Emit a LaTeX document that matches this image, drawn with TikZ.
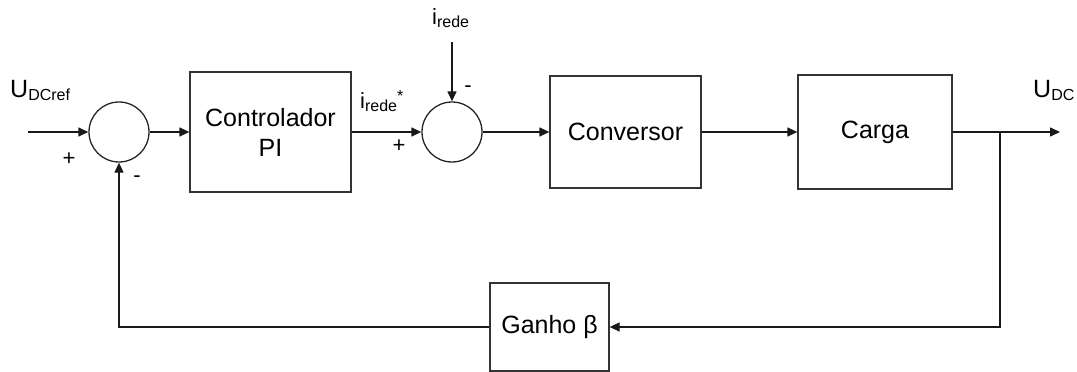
\documentclass[tikz,border=0pt]{standalone}
\usepackage{fontspec}
\setmainfont{Liberation Sans}
\usetikzlibrary{arrows.meta}
% lowered subscript in a smaller size
\newcommand\lowsub[1]{\raisebox{-3pt}{\fontsize{16}{16}\selectfont #1}}
\begin{document}
\begin{tikzpicture}[x=1pt,y=-1pt,
  blk/.style={draw=black!80, line width=1.3pt, inner sep=0pt,
    font=\fontsize{25}{30}\selectfont, align=center},
  sum/.style={draw=black!85, circle, line width=1.3pt, minimum size=60pt, inner sep=0pt},
  sig/.style={draw=black!90, line width=1.3pt, -{Triangle[length=10pt,width=9pt]}},
  wire/.style={draw=black!90, line width=1.3pt},
  lbl/.style={inner sep=0pt, font=\fontsize{25}{30}\selectfont},
  ilbl/.style={inner sep=0pt, font=\fontsize{22}{26}\selectfont},
  sgn/.style={inner sep=0pt, font=\fontsize{22}{24}\selectfont}]
\useasboundingbox (0,0) rectangle (1077,372);

% summing junctions
\node[sum] (s1) at (119,132) {};
\node[sum] (s2) at (452,132) {};

% blocks
\node[blk, minimum width=161pt, minimum height=120pt] (pi) at (270.5,132) {Controlador\\PI};
\node[blk, minimum width=151pt, minimum height=112pt] (conv) at (625.5,132) {Conversor};
\node[blk, minimum width=154pt, minimum height=114pt] (carga) at (875,132) {Carga};
\node[blk, minimum width=119pt, minimum height=88pt] (ganho) at (549.5,327) {Ganho β};

% free ends of the signal lines
\coordinate (in) at (28,132);
\coordinate (out) at (1060,132);
\coordinate (br) at (1000,132);
\coordinate (fb) at (1000,327);
\coordinate (ir) at (452,42);

% forward path
\draw[sig] (in) -- (s1);
\draw[sig] (s1) -- (pi);
\draw[sig] (pi) -- (s2);
\draw[sig] (s2) -- (conv);
\draw[sig] (conv) -- (carga);
\draw[sig] (carga) -- (out);
\draw[sig] (ir) -- (s2);

% feedback path
\draw[sig] (br) -- (fb) -- (ganho.east);
\draw[sig] (ganho.west) -| (s1.south);

% signal names
\node[lbl, anchor=base west] (uref) at (10,97) {U\lowsub{DCref}};
\node[lbl, anchor=base west] (udc) at (1033,97) {U\lowsub{DC}};
\node[ilbl, anchor=base west] (irede) at (432,24) {i\lowsub{rede}};
\node[ilbl, anchor=base west] (iref) at (360,108) {i\lowsub{rede}\raisebox{7pt}{\fontsize{16}{16}\selectfont *}};

% signs at the junction inputs
\node[sgn] (p1) at (69,159) {+};
\node[sgn] (m1) at (137,179) {-};
\node[sgn] (p2) at (399,146) {+};
\node[sgn] (m2) at (468,89) {-};
\end{tikzpicture}
\end{document}
